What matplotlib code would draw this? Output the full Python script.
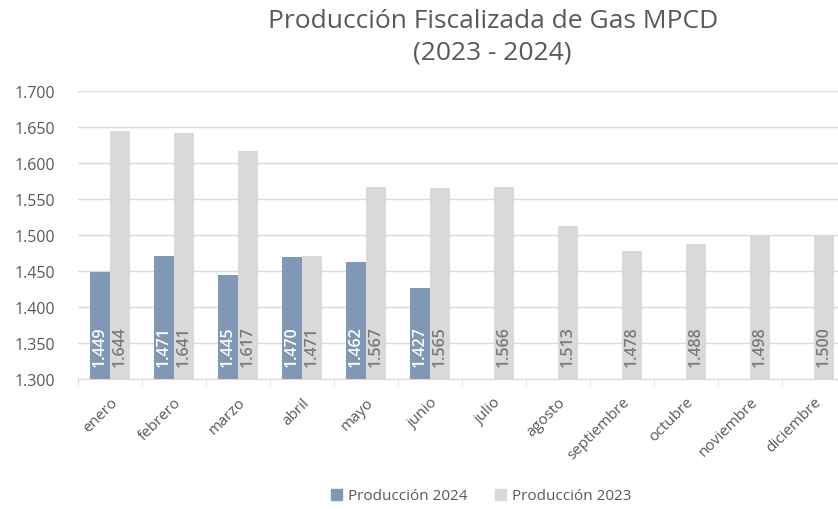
import matplotlib
matplotlib.use("Agg")
import matplotlib.pyplot as plt
import numpy as np
from matplotlib.ticker import FuncFormatter, FixedLocator
from matplotlib.patches import Patch

plt.rcParams['font.family'] = ['Open Sans', 'DejaVu Sans']

months = ["enero", "febrero", "marzo", "abril", "mayo", "junio", "julio",
          "agosto", "septiembre", "octubre", "noviembre", "diciembre"]
prod_2024 = [1449, 1471, 1445, 1470, 1462, 1427]
prod_2023 = [1644, 1641, 1617, 1471, 1567, 1565, 1566, 1513, 1478, 1488, 1498, 1500]
y_ticks = [1300, 1350, 1400, 1450, 1500, 1550, 1600, 1650, 1700]

c24 = "#8097b5"
c23 = "#d9d9d9"
txt = "#595959"

fig = plt.figure(figsize=(8.38, 5.10), dpi=100)
ax = fig.add_axes([78/838, 1-380/510, 768/838, (380-92)/510])

x = np.arange(len(months))
w = 0.3125
ax.bar(x[:len(prod_2024)] - w/2, prod_2024, w, color=c24, zorder=2)
ax.bar(x + w/2, prod_2023, w, color=c23, zorder=2)

def fmt(v):
    return f"{v:,.0f}".replace(",", ".")

for i, v in enumerate(prod_2024):
    ax.text(x[i] - w/2, 1318, fmt(v), rotation=90, ha="center", va="bottom",
            color="white", fontsize=11.5, fontweight="semibold", zorder=3)
for i, v in enumerate(prod_2023):
    ax.text(x[i] + w/2, 1318, fmt(v), rotation=90, ha="center", va="bottom",
            color="#7a7a7a", fontsize=11.5, fontweight="semibold", zorder=3)

ax.set_xlim(-0.5, len(months) - 0.5)
ax.set_ylim(1300, 1700)
ax.set_yticks(y_ticks)
ax.yaxis.set_major_formatter(FuncFormatter(lambda v, p: fmt(v)))
ax.grid(axis="y", color="#d9d9d9", linewidth=1, zorder=0)
ax.set_axisbelow(True)

ax.set_xticks(x)
ax.set_xticklabels(months, rotation=45, ha="right", rotation_mode="anchor")
ax.xaxis.set_minor_locator(FixedLocator(np.arange(-0.5, len(months), 1)))
ax.tick_params(axis="x", which="major", length=0, pad=11, labelsize=11, labelcolor=txt)
ax.tick_params(axis="x", which="minor", length=5, color="#d9d9d9")
ax.tick_params(axis="y", length=0, pad=46, labelsize=11.5, labelcolor=txt)
for lbl in ax.get_yticklabels():
    lbl.set_horizontalalignment("left")
for s in ["top", "right", "left"]:
    ax.spines[s].set_visible(False)
ax.spines["bottom"].set_color("#d9d9d9")

fig.text(0.588, 0.957, "Producción Fiscalizada de Gas MPCD", ha="center", va="center",
         fontsize=19, color=txt)
fig.text(0.588, 0.897, "(2023 - 2024)", ha="center", va="center",
         fontsize=19, color=txt)

handles = [Patch(color=c24, label="Producción 2024"), Patch(color=c23, label="Producción 2023")]
fig.legend(handles=handles, loc="center", bbox_to_anchor=(481/838, 1-497/510), ncol=2,
           frameon=False, fontsize=11, labelcolor=txt, handlelength=0.7, handleheight=0.7,
           handletextpad=0.4, columnspacing=1.8)

fig.savefig("out.png", dpi=100)
